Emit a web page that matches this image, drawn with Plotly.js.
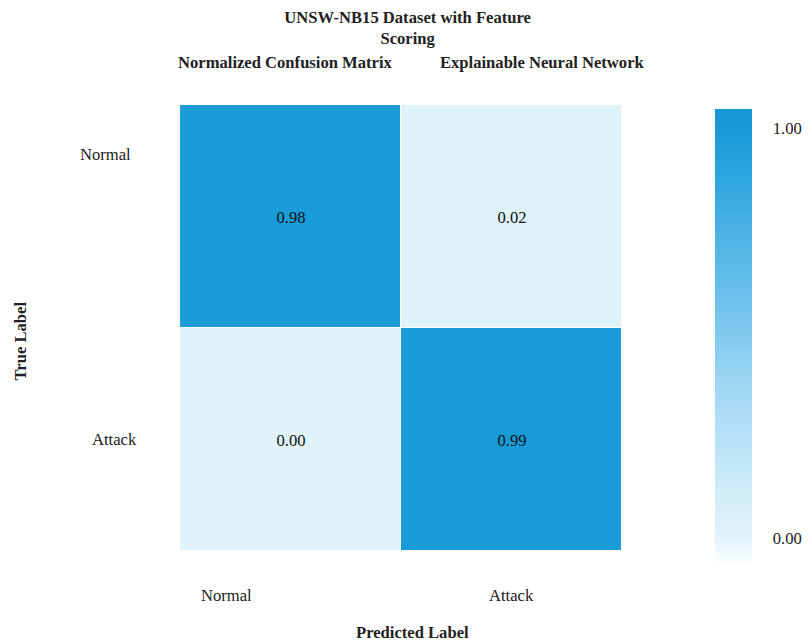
<!DOCTYPE html>
<html>
<head>
<meta charset="utf-8">
<script src="https://cdn.plot.ly/plotly-3.0.1.min.js"></script>
<style>
  html, body { margin: 0; padding: 0; background: #ffffff; }
  #chart { width: 812px; height: 642px; }
</style>
</head>
<body>
<div id="chart"></div>
<script>
// Normalized confusion matrix, UNSW-NB15 with feature scoring
const classLabels = ['Normal', 'Attack'];
const matrixValues = [
  [0.98, 0.02],
  [0.00, 0.99]
];
const cellText = [
  ['0.98', '0.02'],
  ['0.00', '0.99']
];
const colorbarTicks = [0, 1];
const colorbarTickText = ['0.00', '1.00'];

const serif = 'Liberation Serif, Times New Roman, serif';
const ink = '#222222';
const fs = 16.6;

const heat = {
  type: 'heatmap',
  z: matrixValues,
  x: [0, 1],
  y: [0, 1],
  text: cellText,
  texttemplate: '%{text}',
  textfont: { family: serif, size: fs, color: '#111111' },
  hoverinfo: 'skip',
  xgap: 1,
  ygap: 1,
  zmin: -0.064,
  zmax: 1.046,
  colorscale: [
    [0.00, '#ffffff'],
    [0.06, '#E0F3FA'],
    [0.08, '#DEF2FA'],
    [0.15, '#D2EDF9'],
    [0.36, '#A6DAF4'],
    [0.58, '#6EC1EC'],
    [0.80, '#3AAAE0'],
    [0.94, '#199CD8'],
    [1.00, '#1597D5']
  ],
  colorbar: {
    thickness: 37,
    lenmode: 'pixels',
    len: 456,
    x: 1.21,
    xanchor: 'left',
    y: 0.48,
    yanchor: 'middle',
    xpad: 0,
    ypad: 0,
    outlinewidth: 0,
    tickvals: colorbarTicks,
    ticktext: colorbarTickText,
    ticks: 'outside',
    ticklen: 18,
    tickcolor: 'rgba(0,0,0,0)',
    tickfont: { family: serif, size: fs, color: ink }
  }
};

// class labels along the axes, placed through the axis scales
const annotations = [
  { text: classLabels[0], xref: 'x', yref: 'paper', x: -0.29, y: -0.1,
    yanchor: 'middle', xanchor: 'center', showarrow: false,
    font: { family: serif, size: fs, color: ink } },
  { text: classLabels[1], xref: 'x', yref: 'paper', x: 1, y: -0.1,
    yanchor: 'middle', xanchor: 'center', showarrow: false,
    font: { family: serif, size: fs, color: ink } },
  { text: classLabels[0], xref: 'paper', yref: 'y', x: -0.106, y: -0.28,
    xanchor: 'right', yanchor: 'middle', showarrow: false,
    font: { family: serif, size: fs, color: ink } },
  { text: classLabels[1], xref: 'paper', yref: 'y', x: -0.092, y: 1,
    xanchor: 'right', yanchor: 'middle', showarrow: false,
    font: { family: serif, size: fs, color: ink } },
  { text: '<b>Normalized Confusion Matrix</b>', xref: 'paper', yref: 'paper',
    x: 0.2376, y: 1.096, xanchor: 'center', yanchor: 'middle', showarrow: false,
    font: { family: serif, size: fs, color: ink } },
  { text: '<b>Explainable Neural Network</b>', xref: 'paper', yref: 'paper',
    x: 0.821, y: 1.096, xanchor: 'center', yanchor: 'middle', showarrow: false,
    font: { family: serif, size: fs, color: ink } },
  { text: '<b>Predicted Label</b>', xref: 'paper', yref: 'paper',
    x: 0.525, y: -0.182, xanchor: 'center', yanchor: 'middle', showarrow: false,
    font: { family: serif, size: fs, color: ink } },
  { text: '<b>True Label</b>', xref: 'paper', yref: 'paper', textangle: -90,
    x: -0.362, y: 0.472, xanchor: 'center', yanchor: 'middle', showarrow: false,
    font: { family: serif, size: fs, color: ink } }
];

const layout = {
  width: 812,
  height: 642,
  margin: { l: 180, r: 190, t: 105, b: 91, autoexpand: false },
  paper_bgcolor: '#ffffff',
  plot_bgcolor: '#ffffff',
  title: {
    text: '<b>UNSW-NB15 Dataset with Feature<br>Scoring</b>',
    x: 0.502,
    xanchor: 'center',
    xref: 'container',
    y: 1 - 22.5 / 642,
    yref: 'container',
    yanchor: 'top',
    font: { family: serif, size: fs, color: ink }
  },
  xaxis: {
    range: [-0.5, 1.5],
    showticklabels: false,
    showgrid: false,
    zeroline: false,
    ticks: ''
  },
  yaxis: {
    range: [1.5, -0.5],
    showticklabels: false,
    showgrid: false,
    zeroline: false,
    ticks: ''
  },
  annotations: annotations
};

Plotly.newPlot('chart', [heat], layout, { displayModeBar: false, staticPlot: true });
</script>
</body>
</html>
